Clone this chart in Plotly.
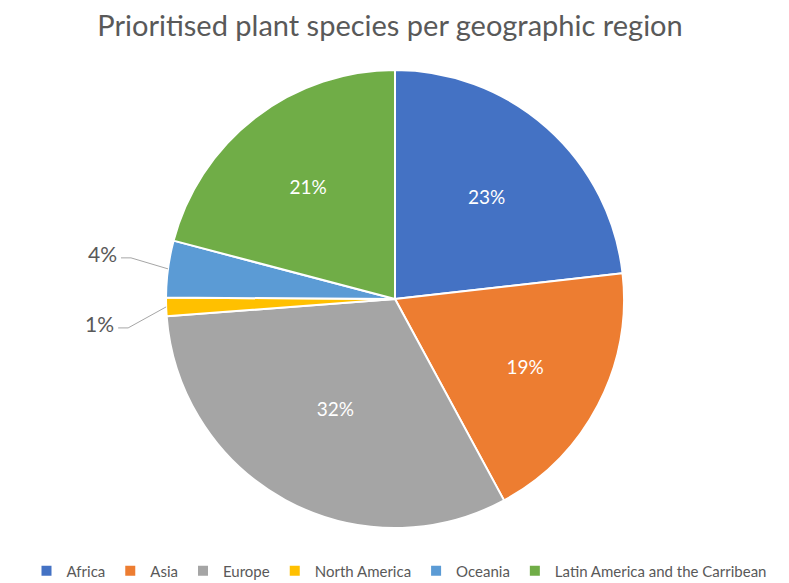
import math
import plotly.graph_objects as go

regions = ["Africa", "Asia", "Europe", "North America", "Oceania", "Latin America and the Carribean"]
shares = [23.2, 18.9, 31.7, 1.3, 4.0, 20.9]
colors = ["#4472C4", "#ED7D31", "#A5A5A5", "#FFC000", "#5B9BD5", "#70AD47"]
outside_regions = ["North America", "Oceania"]

# the page adds an 8px body margin, so the figure is drawn 8px in from the window edges
OFF = 8
W, H = 789 - OFF, 583 - OFF
CX, CY, R = 395 - OFF, 299 - OFF, 229
FONT = "Lato"
GREY = "#595959"

def px(x, y):
    return x / W, 1 - y / H

textpos = ["none" if r in outside_regions else "inside" for r in regions]

fig = go.Figure(go.Pie(
    labels=regions,
    values=shares,
    sort=False,
    direction="clockwise",
    rotation=0,
    marker=dict(colors=colors, line=dict(color="white", width=2)),
    textposition=textpos,
    texttemplate="%{percent:.0%}",
    insidetextorientation="horizontal",
    insidetextfont=dict(color="white", size=19, family=FONT),
    hoverinfo="label+percent",
    domain=dict(x=[(CX - R) / W, (CX + R) / W], y=[1 - (CY + R) / H, 1 - (CY - R) / H]),
))

# leader lines + outside labels computed from slice mid angles
total = sum(shares)
cum = 0
elbow = {"Oceania": (-37, -11), "North America": (-38, 21)}
shapes, annots = [], []
for r, v in zip(regions, shares):
    mid = (cum + v / 2) / total * 2 * math.pi
    cum += v
    if r not in outside_regions:
        continue
    ex = CX + R * math.sin(mid)
    ey = CY - R * math.cos(mid)
    bx, by = ex + elbow[r][0], ey + elbow[r][1]
    hx = bx - 10
    p = [px(ex, ey), px(bx, by), px(hx, by)]
    shapes.append(dict(type="path", xref="paper", yref="paper",
                       path="M {},{} L {},{} L {},{}".format(p[0][0], p[0][1], p[1][0], p[1][1], p[2][0], p[2][1]),
                       line=dict(color="#A6A6A6", width=1)))
    tx, ty = px(hx - 2, by - 4)
    annots.append(dict(x=tx, y=ty, xref="paper", yref="paper", xanchor="right", yanchor="middle",
                       text="{:.0f}%".format(v / total * 100), showarrow=False,
                       font=dict(size=21, color=GREY, family=FONT)))

lx, ly = px(399 - OFF, 571 - OFF)
tx0, ty0 = px(390 - OFF, 26 - OFF)
fig.update_layout(
    width=W, height=H,
    margin=dict(l=0, r=0, t=0, b=0, autoexpand=False),
    paper_bgcolor="white",
    font=dict(family=FONT, color=GREY),
    title=dict(text="Prioritised plant species per geographic region", x=tx0, xanchor="center",
               y=ty0, yanchor="middle", font=dict(size=29, color=GREY, family=FONT)),
    legend=dict(orientation="h", x=lx, xanchor="center", y=ly, yanchor="middle",
                font=dict(size=15, color=GREY, family=FONT), itemwidth=30, traceorder="normal"),
    shapes=shapes,
    annotations=annots,
)

fig.write_html("out.html")
